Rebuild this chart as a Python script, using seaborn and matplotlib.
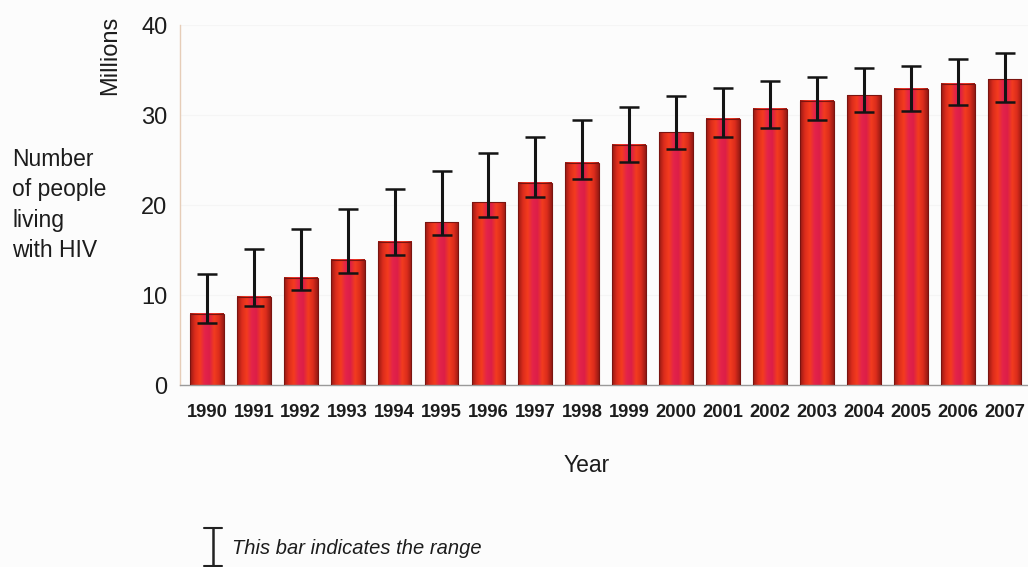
import numpy as np
import pandas as pd
import matplotlib
matplotlib.use("Agg")
import matplotlib.pyplot as plt
from matplotlib import font_manager
from matplotlib.colors import LinearSegmentedColormap
from matplotlib.lines import Line2D
import seaborn as sns

# Data (millions of people living with HIV)
years = [str(y) for y in range(1990, 2008)]
estimate = [7.9, 9.8, 11.9, 13.9, 15.9, 18.1, 20.3, 22.5, 24.7, 26.7,
            28.1, 29.6, 30.7, 31.6, 32.2, 32.9, 33.5, 34.0]
low = [6.9, 8.8, 10.6, 12.5, 14.4, 16.7, 18.7, 20.9, 22.9, 24.8,
       26.2, 27.6, 28.6, 29.4, 30.3, 30.5, 31.1, 31.4]
high = [12.3, 15.1, 17.3, 19.6, 21.8, 23.8, 25.8, 27.6, 29.4, 30.9,
        32.1, 33.0, 33.8, 34.2, 35.2, 35.5, 36.2, 36.9]
yticks = [0, 10, 20, 30, 40]

df = pd.DataFrame({"Year": years, "Estimate": estimate, "Low": low, "High": high})

sns.set_theme(style="white")
installed = {f.name for f in font_manager.fontManager.ttflist}
plt.rcParams['font.family'] = ['Liberation Sans', 'DejaVu Sans']
narrow = 'Liberation Sans Narrow' in installed
txt = '#1c1c1c'

fig = plt.figure(figsize=(10.28, 5.67), dpi=100)
fig.patch.set_facecolor('#fcfcfc')
ax = fig.add_axes([180 / 1028, 1 - 385 / 567, 848 / 1028, 360 / 567])
ax.set_facecolor('#fcfcfc')

sns.barplot(data=df, x="Year", y="Estimate", order=years, errorbar=None,
            width=0.72, color='#d8202a', ax=ax, zorder=2)

# cylindrical red shading on every bar
cmap = LinearSegmentedColormap.from_list(
    "cyl", ['#961a14', '#dc2c1c', '#f43c1e', '#e4244a', '#dc1e48',
            '#f23c1f', '#dc2c1c', '#961a14'])
grad = np.linspace(0, 1, 128).reshape(1, -1)
for p in ax.patches:
    x0, w, h = p.get_x(), p.get_width(), p.get_height()
    ax.imshow(grad, extent=[x0, x0 + w, 0, h], aspect='auto', cmap=cmap,
              zorder=2, interpolation='bilinear')
    p.set_facecolor('none')
    p.set_edgecolor('#7a1410')
    p.set_linewidth(0.8)
    p.set_zorder(3)

est = np.array(estimate)
ax.errorbar(np.arange(len(years)), est,
            yerr=[est - np.array(low), np.array(high) - est],
            fmt='none', ecolor='#141414', elinewidth=2.2, capsize=7,
            capthick=1.8, zorder=4)

ax.set_xlim(-0.574, 17.45)
ax.set_ylim(0, 40)
ax.set_yticks(yticks)
ax.set_yticklabels([str(v) for v in yticks], fontsize=17, color=txt)
ax.tick_params(axis='y', length=0, pad=9)
ax.yaxis.grid(True, color='#f5f5f5', linewidth=0.8, zorder=0)

ax.set_xticks(range(len(years)))
if narrow:
    ax.set_xticklabels(years, fontsize=16.5, fontweight='bold',
                       family=['Liberation Sans Narrow', 'Liberation Sans'], color=txt)
else:
    ax.set_xticklabels(years, fontsize=13.2, fontweight='bold',
                       family=['Liberation Sans', 'DejaVu Sans'], color=txt)
ax.tick_params(axis='x', length=0, pad=14)
ax.set_xticks(np.arange(-0.5, len(years) + 0.5, 1), minor=True)
ax.tick_params(axis='x', which='minor', length=7, color='#8a8a8a', width=1,
               direction='out')
ax.set_xlabel("")
ax.set_ylabel("")

for s in ['top', 'right']:
    ax.spines[s].set_visible(False)
ax.spines['left'].set_color('#e6cdb8')
ax.spines['left'].set_linewidth(1.0)
ax.spines['bottom'].set_color('#9a9a9a')
ax.spines['bottom'].set_linewidth(1.0)

fig.text(110 / 1028, 1 - 55 / 567, "Millions", rotation=90, ha='center',
         va='center', fontsize=17, color=txt)
fig.text(12 / 1028, 1 - 205 / 567, "Number\nof people\nliving\nwith HIV",
         ha='left', va='center', fontsize=16.5, linespacing=1.4, color=txt)
fig.text(587 / 1028, 1 - 466 / 567, "Year", ha='center', va='center',
         fontsize=16.5, color=txt)

# range symbol beside the note
sym_x, cap = 213 / 1028, 9 / 1028
for yy in (1 - 528 / 567, 1 - 566 / 567):
    fig.add_artist(Line2D([sym_x - cap, sym_x + cap], [yy, yy],
                          transform=fig.transFigure, color='#222', lw=1.5))
fig.add_artist(Line2D([sym_x, sym_x], [1 - 528 / 567, 1 - 566 / 567],
                      transform=fig.transFigure, color='#222', lw=1.8))
fig.text(232 / 1028, 1 - 548 / 567, "This bar indicates the range",
         ha='left', va='center', fontsize=14.5, style='italic', color=txt)

fig.savefig("out.png", dpi=100, facecolor=fig.get_facecolor())
